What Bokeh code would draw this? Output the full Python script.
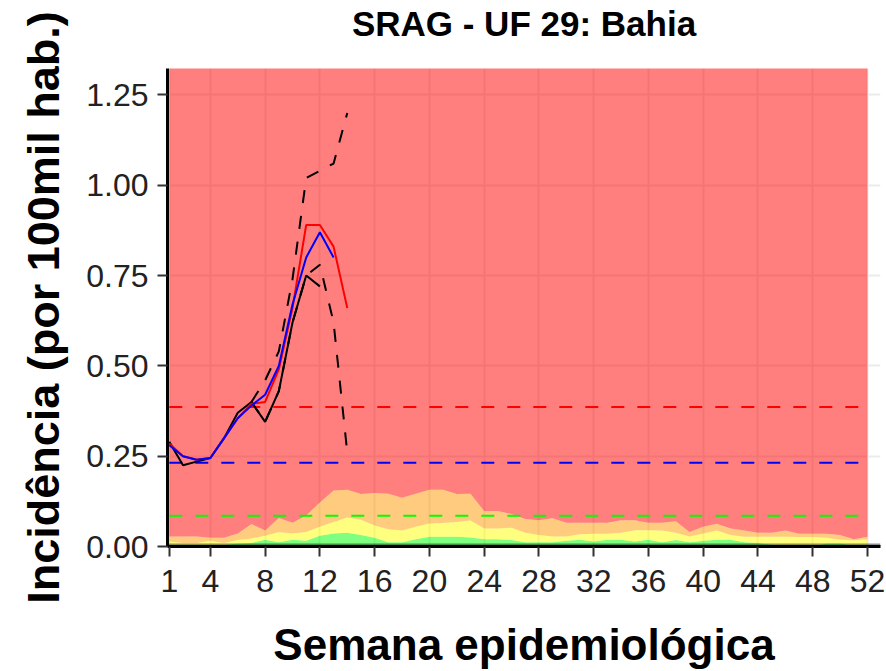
from bokeh.plotting import figure
from bokeh.models import Range1d, FixedTicker, PrintfTickFormatter, Span, LinearAxis
from bokeh.embed import file_html
from bokeh.resources import INLINE

# ---------------- data ----------------
weeks = list(range(1, 53))
green_top = [0.0, 0.0, 0.0, 0.0, 0.004, 0.008, 0.010, 0.019, 0.012, 0.019,
             0.016, 0.030, 0.036, 0.038, 0.032, 0.024, 0.012, 0.012, 0.020, 0.027,
             0.027, 0.027, 0.025, 0.020, 0.020, 0.018, 0.012, 0.012, 0.012, 0.016,
             0.019, 0.014, 0.019, 0.019, 0.014, 0.019, 0.012, 0.018, 0.012, 0.016,
             0.019, 0.019, 0.012, 0.010, 0.005, 0.0, 0.0, 0.0, 0.008, 0.008,
             0.003, 0.0]
yellow_top = [0.014, 0.010, 0.010, 0.016, 0.010, 0.018, 0.022, 0.030, 0.040, 0.036,
              0.040, 0.055, 0.068, 0.080, 0.074, 0.058, 0.048, 0.044, 0.055, 0.064,
              0.065, 0.068, 0.072, 0.050, 0.050, 0.052, 0.038, 0.032, 0.028, 0.028,
              0.034, 0.035, 0.035, 0.038, 0.045, 0.045, 0.044, 0.038, 0.028, 0.036,
              0.044, 0.032, 0.027, 0.027, 0.027, 0.027, 0.026, 0.026, 0.024, 0.019,
              0.017, 0.020]
orange_top = [0.028, 0.028, 0.028, 0.024, 0.024, 0.036, 0.062, 0.044, 0.079, 0.066,
              0.086, 0.122, 0.155, 0.157, 0.145, 0.148, 0.146, 0.135, 0.146, 0.157,
              0.157, 0.145, 0.146, 0.098, 0.098, 0.090, 0.076, 0.073, 0.078, 0.066,
              0.066, 0.066, 0.066, 0.073, 0.073, 0.066, 0.066, 0.070, 0.040, 0.055,
              0.063, 0.050, 0.044, 0.038, 0.038, 0.044, 0.035, 0.035, 0.035, 0.032,
              0.020, 0.027]
band_ceiling = 5.0

obs_weeks = list(range(1, 13))
observed = [0.29, 0.225, 0.235, 0.245, 0.30, 0.37, 0.40, 0.345, 0.43, 0.62, 0.75, 0.72]

red_weeks = list(range(1, 15))
estimate_red = [0.285, 0.25, 0.24, 0.245, 0.30, 0.355, 0.395, 0.40, 0.49, 0.66,
                0.89, 0.89, 0.83, 0.66]

blue_weeks = list(range(1, 14))
estimate_blue = [0.28, 0.25, 0.24, 0.245, 0.30, 0.355, 0.39, 0.42, 0.50, 0.67,
                 0.80, 0.87, 0.80]

ci_weeks = list(range(7, 15))
ci_upper = [0.40, 0.46, 0.54, 0.74, 1.02, 1.04, 1.06, 1.20]
ci_lower = [0.40, 0.345, 0.43, 0.62, 0.75, 0.78, 0.62, 0.26]

threshold_red = 0.386
threshold_blue = 0.232
threshold_green = 0.085

x_ticks = [1, 4, 8, 12, 16, 20, 24, 28, 32, 36, 40, 44, 48, 52]
y_ticks = [0.0, 0.25, 0.50, 0.75, 1.00, 1.25]

title_text = "SRAG - UF 29: Bahia"
x_label = "Semana epidemiológica"
y_label = "Incidência (por 100mil hab.)"

FONT = "Liberation Sans"

# ---------------- figure ----------------
p = figure(width=886, height=671, output_backend="svg", toolbar_location=None,
           x_range=Range1d(0.8685, 52.95), y_range=Range1d(0.0, 1.323),
           min_border_left=167, min_border_right=6, min_border_top=68,
           min_border_bottom=124)

p.background_fill_color = "white"
p.border_fill_color = "white"
p.outline_line_color = None

xax = p.below[0]
yax = p.left[0]

# grid (beneath translucent bands)
p.xgrid.ticker = FixedTicker(ticks=x_ticks)
p.ygrid.ticker = FixedTicker(ticks=y_ticks)
p.grid.grid_line_color = "#EBEBEB"
p.grid.grid_line_width = 2

# bands
p.varea(x=weeks, y1=0, y2=green_top, fill_color="#00FF00", fill_alpha=0.5)
p.varea(x=weeks, y1=green_top, y2=yellow_top, fill_color="#FFFF00", fill_alpha=0.5)
p.varea(x=weeks, y1=yellow_top, y2=orange_top, fill_color="#FF9900", fill_alpha=0.5)
p.varea(x=weeks, y1=orange_top, y2=band_ceiling, fill_color="#FF0000", fill_alpha=0.5)

# thresholds
for thr, col in [(threshold_green, "#00FF00"), (threshold_blue, "#0000FF"),
                 (threshold_red, "#FF0000")]:
    p.line(weeks, [thr] * len(weeks), line_color=col, line_width=2,
           line_dash="13 13")

# series
p.line(ci_weeks, ci_upper, line_color="black", line_width=2, line_dash="13 13")
p.line(ci_weeks, ci_lower, line_color="black", line_width=2, line_dash="13 13")
p.line(obs_weeks, observed, line_color="black", line_width=2)
p.line(red_weeks, estimate_red, line_color="#FF0000", line_width=2)
p.line(blue_weeks, estimate_blue, line_color="#0000FF", line_width=2)

p.add_layout(Span(location=0, dimension="width", line_color="black",
                  line_alpha=0.45, line_width=6))

# axes
for ax in (xax, yax):
    ax.axis_line_color = "black"
    ax.axis_line_width = 3
    ax.major_tick_line_color = "#333333"
    ax.major_tick_line_width = 2
    ax.major_tick_out = 10
    ax.major_tick_in = 0
    ax.minor_tick_line_color = None
    ax.major_label_text_font = FONT
    ax.major_label_text_font_size = "32px"
    ax.major_label_text_color = "#222222"
    ax.axis_label_text_font = FONT
    ax.axis_label_text_font_style = "bold"
    ax.axis_label_text_color = "black"

xax.axis_label_text_font_size = "44px"
yax.axis_label_text_font_size = "45px"
xax.ticker = FixedTicker(ticks=x_ticks)
yax.ticker = FixedTicker(ticks=y_ticks)
yax.formatter = PrintfTickFormatter(format="%.2f")
xax.axis_label = x_label
yax.axis_label = y_label
xax.major_label_standoff = 13
yax.major_label_standoff = 9
xax.axis_label_standoff = 25
yax.axis_label_standoff = 14

# title drawn as the label of a tick-less axis above the frame
title_axis = LinearAxis(ticker=FixedTicker(ticks=[]), axis_label=title_text,
                        axis_line_color=None, major_tick_line_color=None,
                        minor_tick_line_color=None,
                        major_tick_out=0, major_tick_in=0,
                        minor_tick_out=0, minor_tick_in=0,
                        major_label_standoff=0, axis_label_standoff=26,
                        axis_label_text_font=FONT, axis_label_text_font_size="35px",
                        axis_label_text_font_style="bold",
                        axis_label_text_color="black")
p.add_layout(title_axis, "above")

open("out.html", "w").write(file_html(p, INLINE))
